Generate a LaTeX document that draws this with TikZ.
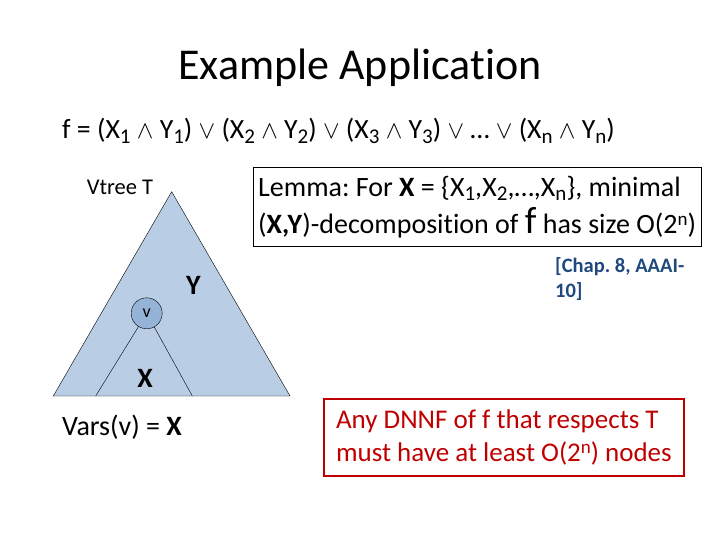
\documentclass[tikz,border=0pt]{standalone}
\usepackage{fontspec}
\setmainfont{Carlito}[Ligatures={NoCommon,NoContextual}]
\frenchspacing
\definecolor{treefill}{HTML}{B9CDE5}
\definecolor{vfill}{HTML}{95B3D7}
\definecolor{citeblue}{HTML}{1F497D}
\definecolor{boxred}{HTML}{C00000}
\newcommand{\fs}[1]{\fontsize{#1}{1.2\dimexpr#1pt\relax}\selectfont}
\newcommand{\lo}[1]{\raisebox{-4.5pt}{\fontsize{21}{21}\selectfont #1}}
\newcommand{\hi}[1]{\raisebox{8pt}{\fontsize{19}{19}\selectfont #1}}
\begin{document}
\begin{tikzpicture}[x=1pt,y=-1pt,
  txt/.style={inner sep=0pt,font=\fs{27}},
  vnode/.style={circle,draw,fill=vfill,minimum size=31pt,inner sep=0pt,font=\fs{18}},
  lemmabox/.style={draw,line width=1pt,inner xsep=5pt,inner ysep=8pt,align=left,font=\fs{28}},
  redbox/.style={draw=boxred,line width=1.5pt,text=boxred,inner xsep=12pt,inner ysep=11pt,align=left,font=\fs{27}}]
  \useasboundingbox (0,0) rectangle (720,540);
  \node[txt,font=\fs{44}] (title) at (360,68) {Example Application};
  \node[txt,font=\fs{27.8},anchor=west] (formula) at (62,131) {f = (X\lo{1} $\wedge$ Y\lo{1}) $\vee$ (X\lo{2} $\wedge$ Y\lo{2}) $\vee$ (X\lo{3} $\wedge$ Y\lo{3}) $\vee$ … $\vee$ (X\lo{n} $\wedge$ Y\lo{n})};
  % vtree
  \coordinate (top) at (171.7,191.7);
  \coordinate (bl) at (53.3,396);
  \coordinate (br) at (290,396);
  \filldraw[fill=treefill] (top) -- (bl) -- (br) -- cycle;
  \node[vnode] (v) at (146.7,313.3) {v};
  \coordinate (xl) at (95.7,396);
  \coordinate (xr) at (192.3,396);
  \draw (v) -- (xl);
  \draw (v) -- (xr);
  \node[txt,font=\fs{22.5}] (vtree) at (120,187) {Vtree T};
  \node[txt,font=\bfseries\fs{28}] (ylab) at (193.3,285) {Y};
  \node[txt,font=\bfseries\fs{28}] (xlab) at (145,378) {X};
  \node[txt,font=\fs{28}] (vars) at (122,427) {Vars(v) = \textbf{X}};
  % lemma and result
  \node[lemmabox,anchor=north west] (lemma) at (252.7,167.3) {Lemma: For \textbf{X} = \{X\lo{1},X\lo{2},…,X\lo{n}\}, minimal\\[4pt](\textbf{X,Y})-decomposition of {\fs{38}f} has size O(2\hi{n})};
  \node[txt,font=\bfseries\fs{20.5},text=citeblue,align=left,anchor=north west] (cite) at (555,257) {[Chap. 8, AAAI-\\[1pt]10]};
  \node[redbox,anchor=north west] (result) at (323.3,398.3) {Any DNNF of f that respects T\\must have at least O(2\hi{n}) nodes};
\end{tikzpicture}
\end{document}
